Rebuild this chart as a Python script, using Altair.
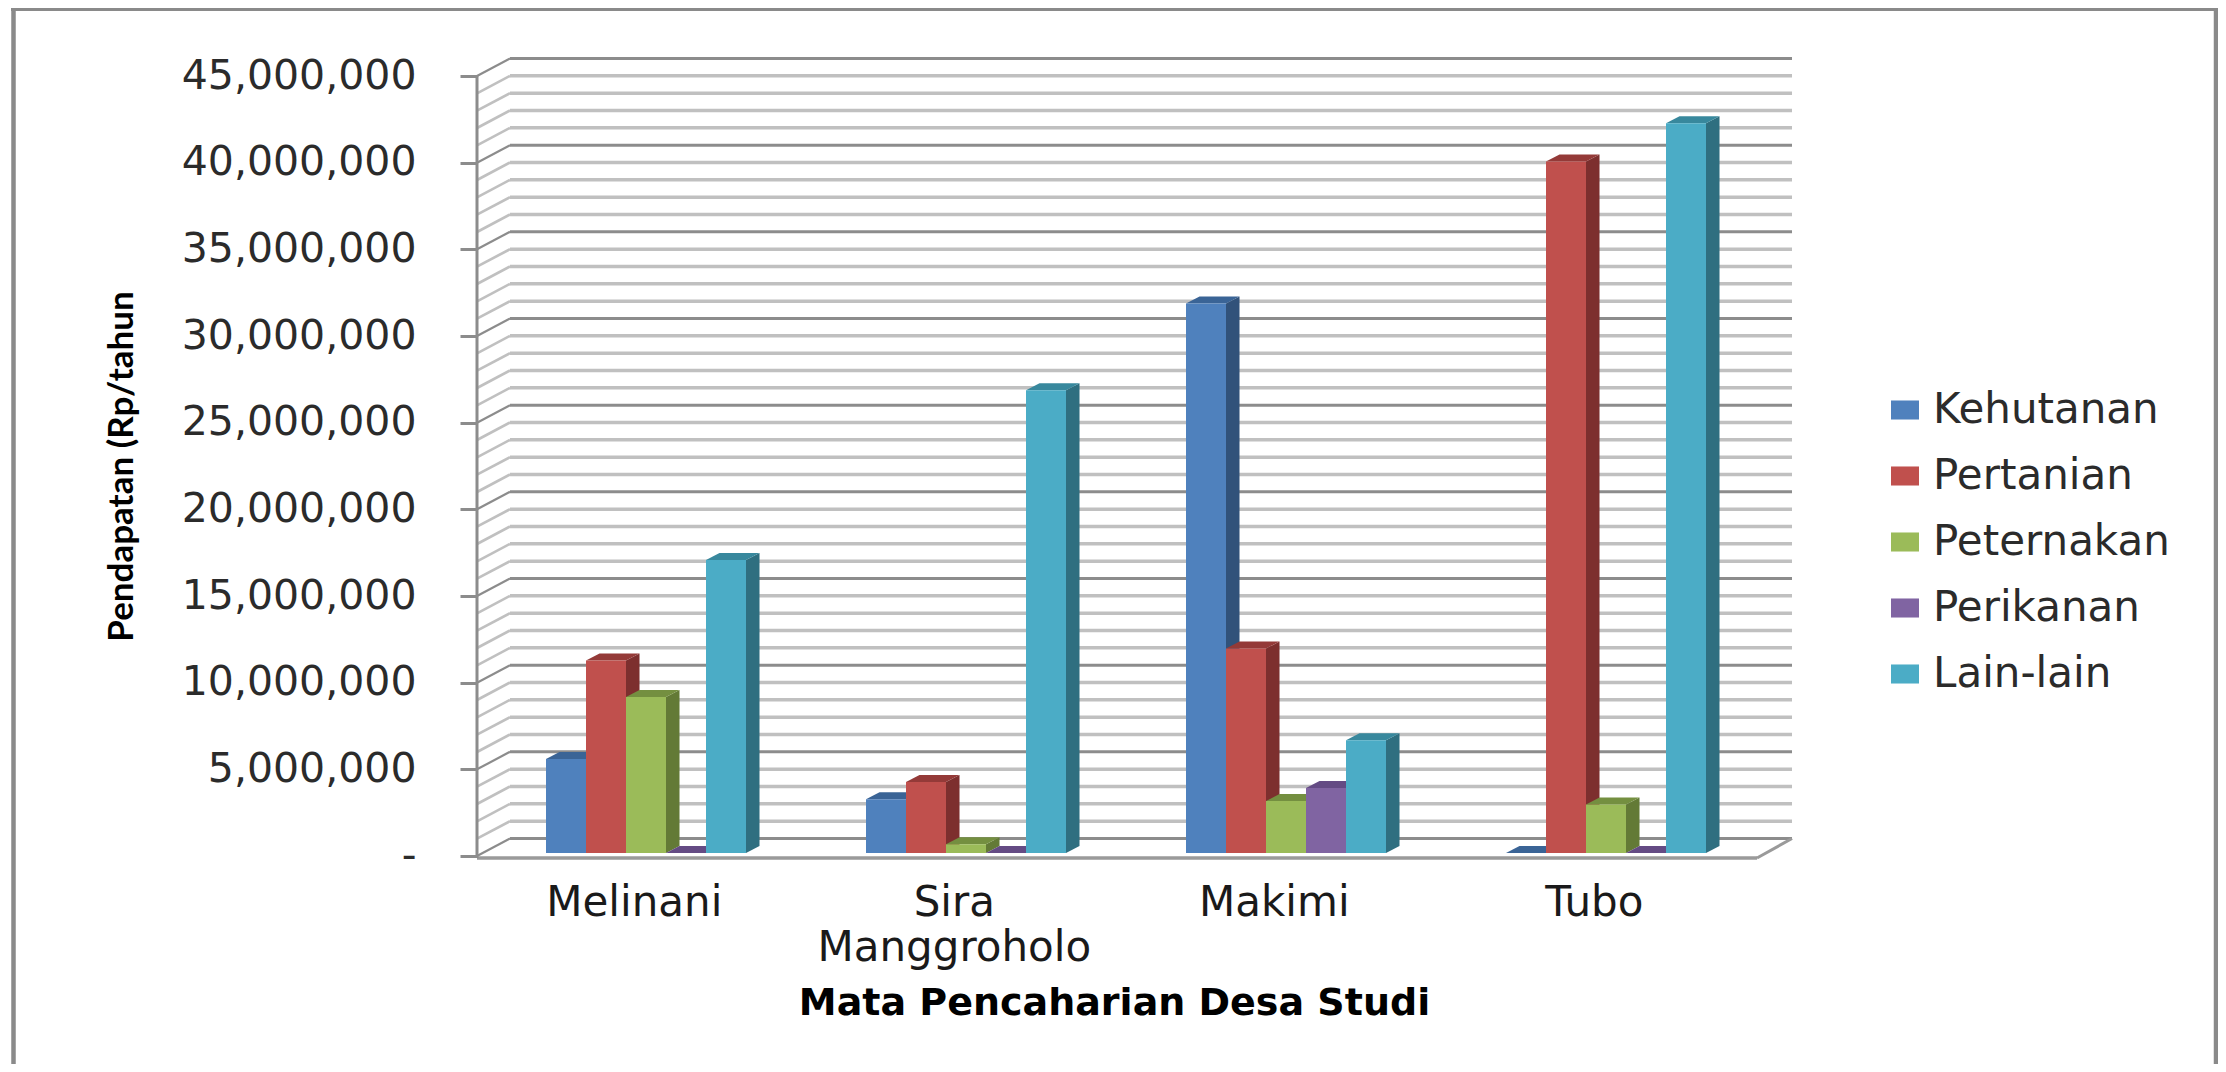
import json
import altair as alt
import pandas as pd

# ---- values ----
CATEGORIES = ["Melinani", "Sira Manggroholo", "Makimi", "Tubo"]
AXIS_LABELS = ["Melinani", ["Sira", "Manggroholo"], "Makimi", "Tubo"]
SERIES = ["Kehutanan", "Pertanian", "Peternakan", "Perikanan", "Lain-lain"]
KEHUTANAN = [5420000, 3100000, 31700000, 0]
PERTANIAN = [11100000, 4100000, 11800000, 39900000]
PETERNAKAN = [9000000, 500000, 3000000, 2800000]
PERIKANAN = [0, 0, 3750000, 0]
LAIN_LAIN = [16900000, 26700000, 6500000, 42100000]
VALUES = [KEHUTANAN, PERTANIAN, PETERNAKAN, PERIKANAN, LAIN_LAIN]
Y_TICKS = [0, 5000000, 10000000, 15000000, 20000000, 25000000, 30000000, 35000000, 40000000, 45000000]
GRID_LINES = list(range(0, 46000000, 1000000))

# ---- colours ----
FRONT = ["#4F81BD", "#C0504D", "#9BBB59", "#8064A2", "#4BACC6"]
SIDE = ["#31527A", "#7D2F2E", "#637A36", "#5D4678", "#2F6F80"]
TOP = ["#3A6496", "#943A38", "#748F40", "#644B84", "#38889D"]
GRID_MINOR = "#c0c0c0"
GRID_MAJOR = "#8c8c8c"
FRAME = "#8a8a8a"
TEXT = "#2b2b2b"

# ---- layout (pixels on the page) ----
LEFT, TOP_PX, PLOT_W, PLOT_H = 477, 58, 1315, 800
CHART_W, CHART_H = 2210, 1056
PX_PER_CAT = 320.0
PX_PER_VAL = 780.0 / 45000000
ZERO_PX = 856  # y of value 0

px_y = lambda p: p / PX_PER_VAL
X_DOMAIN = [0, PLOT_W / PX_PER_CAT]
Y_DOMAIN = [-px_y(858 - ZERO_PX), px_y(ZERO_PX - TOP_PX)]

BAR_START = 69 / PX_PER_CAT
BAR_W = 40 / PX_PER_CAT
BAR_DX = 13.5 / PX_PER_CAT
BAR_DY = px_y(7)
BAR_BASE = px_y(3)
WALL_DX = 33 / PX_PER_CAT
WALL_DY = px_y(17.5)

xs = alt.Scale(domain=X_DOMAIN, nice=False, zero=False)
ys = alt.Scale(domain=Y_DOMAIN, nice=False, zero=False)

def X(f, **k):
    return alt.X(f, type="quantitative", scale=xs, axis=None, **k)

def Y(f, **k):
    return alt.Y(f, type="quantitative", scale=ys, axis=None, stack=False, **k)

# ---- tables built from the arrays ----
fronts, sides, tops = [], [], []
for j, (name, vals) in enumerate(zip(SERIES, VALUES)):
    for i, v in enumerate(vals):
        x0 = i + BAR_START + j * BAR_W
        x1 = x0 + BAR_W
        t = BAR_BASE + v
        fid = f"{i}-{j}"
        fronts.append(dict(series=name, x=x0, x2=x1, y=t, y2=BAR_BASE))
        sides.append(dict(face=fid, fc=SIDE[j], x=x1, y=t, y2=BAR_BASE))
        sides.append(dict(face=fid, fc=SIDE[j], x=x1 + BAR_DX, y=t + BAR_DY, y2=BAR_BASE + BAR_DY))
        tops.append(dict(face=fid, fc=TOP[j], y=t, x=x0, x2=x1))
        tops.append(dict(face=fid, fc=TOP[j], y=t + BAR_DY, x=x0 + BAR_DX, x2=x1 + BAR_DX))

grid = pd.DataFrame(dict(v=GRID_LINES))
grid["back"] = grid.v + WALL_DY
grid["major"] = grid.v % 5000000 == 0
grid["x0"] = 0.0
grid["x1"] = WALL_DX
grid["x2"] = X_DOMAIN[1]

# ---- axes ----
label_expr = "datum.value === 0 ? '-' : format(datum.value, ',')"
y_axis = alt.Axis(
    values=Y_TICKS, labelExpr=label_expr, grid=False, domain=False,
    tickSize=17, tickWidth=3, tickColor=GRID_MAJOR,
    labelFont="DejaVu Sans", labelFontSize=41, labelColor=TEXT, labelPadding=44, labelLimit=500,
    labelOverlap=False, labelBound=False, labelFlush=False,
    title="Pendapatan (Rp/tahun", titleFont="Lato", titleFontWeight="bold",
    titleFontSize=35, titleColor="#000000", titleAngle=270, titleAlign="center", titleBaseline="middle",
    titleX=121 - LEFT, titleY=466 - TOP_PX,
)
x_axis = alt.Axis(
    values=[i + 0.49 for i in range(len(CATEGORIES))],
    labelExpr=f"{json.dumps(AXIS_LABELS)}[floor(datum.value)]",
    grid=False, domain=False, ticks=False,
    labelFont="DejaVu Sans", labelFontSize=42, labelColor="#1a1a1a", labelPadding=24, labelLineHeight=45,
    labelLimit=500, labelOverlap=False, labelBound=False, labelFlush=False, labelAngle=0,
    title="Mata Pencaharian Desa Studi", titleFont="DejaVu Sans", titleFontWeight="bold",
    titleFontSize=38, titleColor="#000000", titleAlign="center", titleBaseline="middle",
    titleX=1114 - LEFT, titleY=1003 - TOP_PX - PLOT_H,
)

# axis carrier + front vertical axis line
axis_df = pd.DataFrame(dict(x=[0.0], y=[-px_y(2)], y2=[45000000.0]))
axis_line = alt.Chart(axis_df).mark_rule(color=GRID_MAJOR, strokeWidth=3).encode(
    x=alt.X("x:Q", scale=xs, axis=x_axis),
    y=alt.Y("y:Q", scale=ys, axis=y_axis),
    y2="y2:Q",
)

# frame
FRAME_BOTTOM = CHART_H + 8
frame_l = alt.Chart(axis_df).mark_rule(color=FRAME, strokeWidth=4.5).encode(
    x=alt.value(13.5 - LEFT), y=alt.value(8 - TOP_PX), y2=alt.value(FRAME_BOTTOM - TOP_PX))
frame_t = alt.Chart(axis_df).mark_rule(color=FRAME, strokeWidth=4).encode(
    x=alt.value(11 - LEFT), x2=alt.value(CHART_W + 8 - LEFT), y=alt.value(9 - TOP_PX))
frame_r = alt.Chart(axis_df).mark_rule(color=FRAME, strokeWidth=4.5).encode(
    x=alt.value(CHART_W + 6 - LEFT), y=alt.value(8 - TOP_PX), y2=alt.value(FRAME_BOTTOM - TOP_PX))

def grid_layers(df, color, width):
    base = alt.Chart(df).mark_rule(color=color, strokeWidth=width)
    back = base.encode(x=X("x1:Q"), x2="x2:Q", y=Y("back:Q"))
    slant = alt.Chart(df).mark_rule(color=color, strokeWidth=max(width - 0.8, 1.5)).encode(
        x=X("x0:Q"), x2="x1:Q", y=Y("v:Q"), y2="back:Q")
    return [back, slant]

floor_df = pd.DataFrame(dict(x=[0.0], x2=[(1757 - LEFT) / PX_PER_CAT], y=[-px_y(2)]))
floor_front = alt.Chart(floor_df).mark_rule(color="#9a9a9a", strokeWidth=3.5).encode(
    x=X("x:Q"), x2="x2:Q", y=Y("y:Q"))
floor_df2 = pd.DataFrame(dict(x=[(1757 - LEFT) / PX_PER_CAT], x2=[X_DOMAIN[1]],
                              y=[-px_y(2)], y2=[WALL_DY]))
floor_right = alt.Chart(floor_df2).mark_rule(color="#9a9a9a", strokeWidth=3).encode(
    x=X("x:Q"), x2="x2:Q", y=Y("y:Q"), y2="y2:Q")

side_layer = alt.Chart(pd.DataFrame(sides)).mark_area(orient="vertical").encode(
    x=X("x:Q"), y=Y("y:Q"), y2="y2:Q",
    fill=alt.Fill("fc:N", scale=None, legend=None), detail="face:N")
top_layer = alt.Chart(pd.DataFrame(tops)).mark_area(orient="horizontal").encode(
    y=alt.Y("y:Q", scale=ys, axis=None), x=alt.X("x:Q", scale=xs, axis=None, stack=False), x2="x2:Q",
    fill=alt.Fill("fc:N", scale=None, legend=None), detail="face:N")
front_layer = alt.Chart(pd.DataFrame(fronts)).mark_rect().encode(
    x=X("x:Q"), x2="x2:Q", y=Y("y:Q"), y2="y2:Q",
    color=alt.Color(
        "series:N",
        scale=alt.Scale(domain=SERIES, range=FRONT),
        legend=alt.Legend(
            title=None, orient="none", legendX=1884 - LEFT, legendY=389 - TOP_PX, padding=0,
            symbolType="M-1,-0.68H1V0.68H-1Z", symbolSize=784, symbolStrokeWidth=0,
            labelFont="DejaVu Sans", labelFontSize=42, labelColor=TEXT, labelOffset=7,
            rowPadding=24, labelLimit=400, symbolOpacity=1,
        ),
        sort=SERIES,
    ),
)

layers = (
    [frame_l, frame_t, frame_r]
    + grid_layers(grid[~grid.major], GRID_MINOR, 3.5)
    + grid_layers(grid[grid.major], GRID_MAJOR, 3)
    + [floor_front, floor_right, axis_line, side_layer, top_layer, front_layer]
)

chart = alt.layer(*layers).resolve_axis(x="independent", y="independent").properties(
    width=PLOT_W,
    height=PLOT_H,
    autosize=alt.AutoSizeParams(type="none"),
    padding={"left": LEFT - 8, "top": TOP_PX - 8,
             "right": CHART_W - (LEFT - 8) - PLOT_W,
             "bottom": CHART_H - (TOP_PX - 8) - PLOT_H},
    background="#ffffff",
).configure_view(stroke=None)

chart.save("out.html", embed_options={"renderer": "svg", "actions": False})
